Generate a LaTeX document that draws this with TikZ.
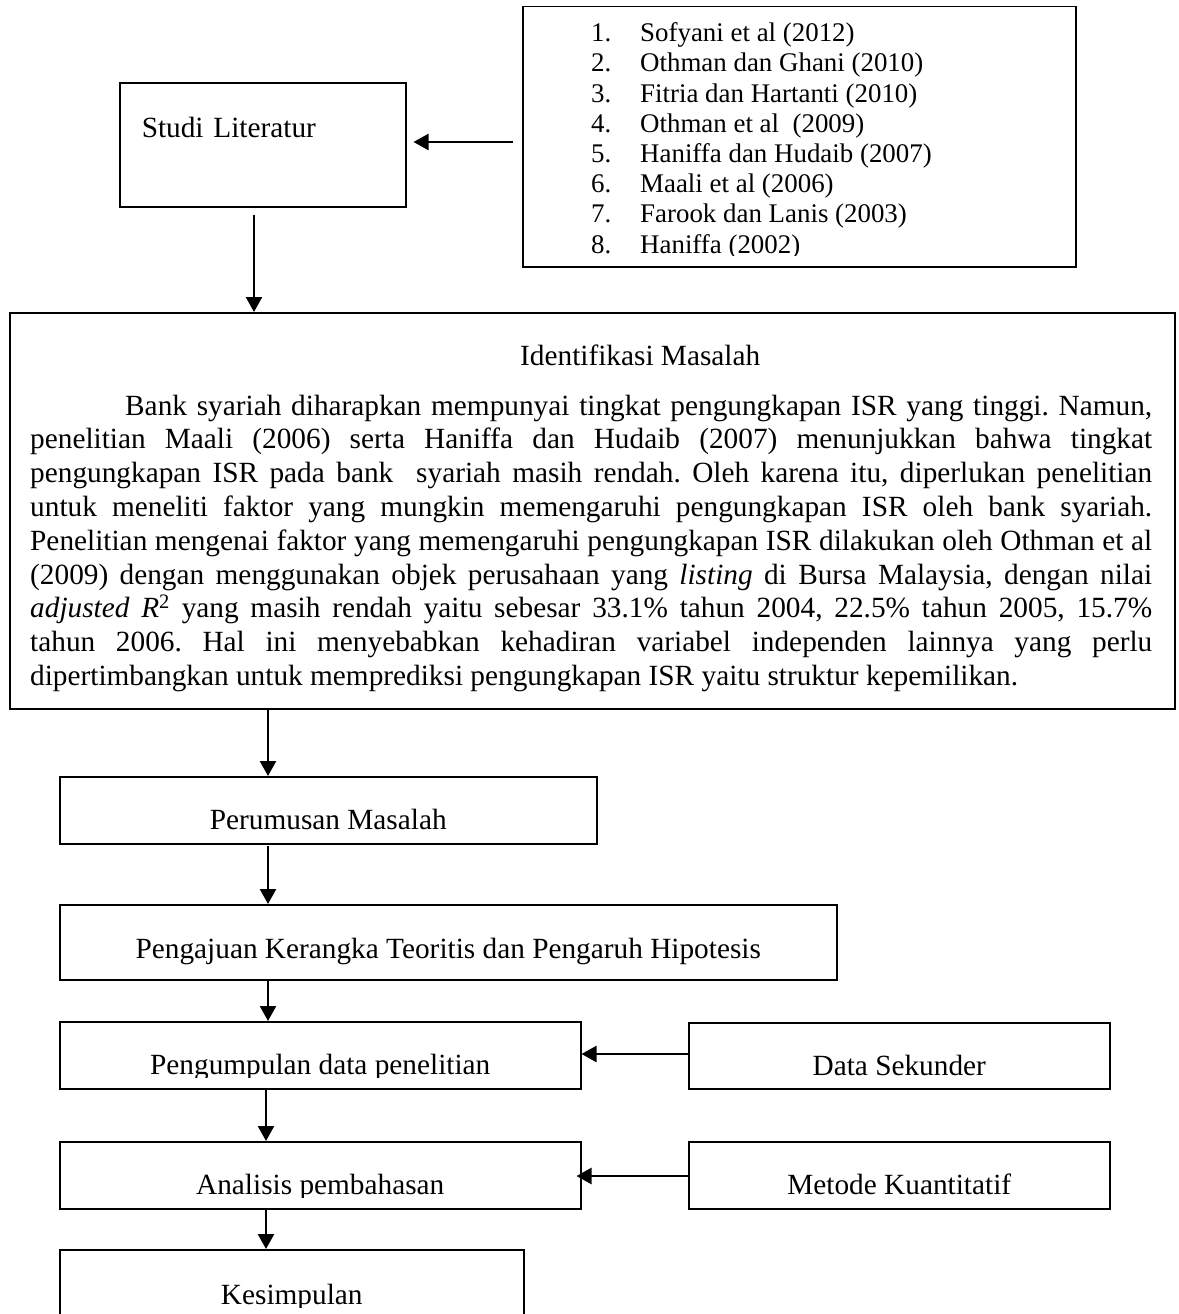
\documentclass[tikz,border=0pt]{standalone}
\usepackage{fontspec}
\setmainfont{Liberation Serif}
\usetikzlibrary{arrows.meta}
\frenchspacing
\newcommand\bodysz{\fontsize{29.3pt}{33.8pt}\selectfont}
\newcommand\listsz{\fontsize{26.9pt}{30.2pt}\selectfont}
\newcommand\litem[2]{\hbox{\makebox[49pt][l]{#1}#2}}
\tikzset{
  frame/.style={draw, line width=1.5pt, inner sep=0pt, anchor=north west, font=\bodysz},
  arr/.style={line width=2.3pt, -{Triangle[length=15pt,width=16pt]}},
  txt/.style={inner sep=0pt, font=\bodysz}
}
\begin{document}
\begin{tikzpicture}[x=1pt, y=1pt]
\useasboundingbox (0,0) rectangle (1178,-1314);
\fill[white] (0,0) rectangle (1178,-1314);

% reference list
\node[frame, minimum width=553pt, minimum height=260pt] (lit) at (522,-6) {};
\begin{scope}
  \clip (522,-6) rectangle (1075,-255.5);
  \node[anchor=base west, inner sep=0pt] (littext) at (591,-41.7) {\parbox[t]{470pt}{\listsz\frenchspacing
    \litem{1.}{Sofyani et al (2012)}
    \litem{2.}{Othman dan Ghani (2010)}
    \litem{3.}{Fitria dan Hartanti (2010)}
    \litem{4.}{Othman et al\ \ (2009)}
    \litem{5.}{Haniffa dan Hudaib (2007)}
    \litem{6.}{Maali et al (2006)}
    \litem{7.}{Farook dan Lanis (2003)}
    \litem{8.}{Haniffa (2002)}}};
\end{scope}

% Studi Literatur
\node[frame, text width=242pt, inner xsep=22pt, text height=55pt, text depth=69pt, align=left] (studi) at (119,-82) {Studi Literatur};

% Identifikasi Masalah
\node[frame, minimum width=1165pt, minimum height=396pt] (ident) at (9,-312) {};
\node[txt, anchor=base west] (identtitle) at (520,-365) {Identifikasi Masalah};
\node[txt, anchor=base west] (identtext) at (30,-415) {\parbox[t]{1122pt}{\bodysz\frenchspacing
\hbox to \hsize{\hspace*{95pt}Bank syariah diharapkan mempunyai tingkat pengungkapan ISR yang tinggi. Namun,}
\hbox to \hsize{penelitian Maali (2006) serta Haniffa dan Hudaib (2007) menunjukkan bahwa tingkat}
\hbox to \hsize{pengungkapan ISR pada bank\ \ syariah masih rendah. Oleh karena itu, diperlukan penelitian}
\hbox to \hsize{untuk meneliti faktor yang mungkin memengaruhi pengungkapan ISR oleh bank syariah.}
\hbox to \hsize{Penelitian mengenai faktor yang memengaruhi pengungkapan ISR dilakukan oleh Othman et al}
\hbox to \hsize{(2009) dengan menggunakan objek perusahaan yang \textit{listing} di Bursa Malaysia, dengan nilai}
\hbox to \hsize{\textit{adjusted R}\textsuperscript{2} yang masih rendah yaitu sebesar 33.1\% tahun 2004, 22.5\% tahun 2005, 15.7\%}
\hbox to \hsize{tahun 2006. Hal ini menyebabkan kehadiran variabel independen lainnya yang perlu}
\hbox to \hsize{dipertimbangkan untuk memprediksi pengungkapan ISR yaitu struktur kepemilikan.\hfil}}};

% flow boxes
\node[frame, minimum width=537pt, text height=53pt, text depth=14pt] (rumus) at (59,-776) {Perumusan Masalah};
\node[frame, minimum width=777pt, text height=54pt, text depth=21pt] (aju) at (59,-904) {Pengajuan Kerangka Teoritis dan Pengaruh Hipotesis};
\node[frame, minimum width=521pt, minimum height=67pt] (kumpul) at (59,-1021) {};
\node[frame, minimum width=521pt, minimum height=67pt] (analisis) at (59,-1141) {};
\node[frame, minimum width=464pt, minimum height=100pt] (simpul) at (59,-1249) {};
\node[frame, minimum width=421pt, text height=53pt, text depth=13pt] (sekunder) at (688,-1022) {Data Sekunder};
\node[frame, minimum width=421pt, text height=53pt, text depth=14pt] (metode) at (688,-1141) {Metode Kuantitatif};

\begin{scope}
  \clip (kumpul.north west) rectangle (kumpul.east |- 0,-1077.5);
  \node[txt, anchor=base] (kumpultext) at (kumpul.center |- 0,-1074) {Pengumpulan data penelitian};
\end{scope}
\begin{scope}
  \clip (analisis.north west) rectangle (analisis.east |- 0,-1197.5);
  \node[txt, anchor=base] (analisistext) at (analisis.center |- 0,-1194) {Analisis pembahasan};
\end{scope}
\begin{scope}
  \clip (simpul.north west) rectangle (simpul.east |- 0,-1307.5);
  \node[txt, anchor=base] (simpultext) at (simpul.center |- 0,-1304) {Kesimpulan};
\end{scope}

% connectors
\draw[arr, shorten <=9pt, shorten >=7pt] (lit.west |- 0,-142) -- (studi.east |- 0,-142);
\draw[arr, shorten <=7pt] (studi.south -| 254,0) -- (ident.north -| 254,0);
\draw[arr] (ident.south -| 268,0) -- (rumus.north -| 268,0);
\draw[arr, shorten <=1pt] (rumus.south -| 268,0) -- (aju.north -| 268,0);
\draw[arr] (aju.south -| 268,0) -- (kumpul.north -| 268,0);
\draw[arr] (kumpul.south -| 266,0) -- (analisis.north -| 266,0);
\draw[arr] (analisis.south -| 266,0) -- (simpul.north -| 266,0);
\draw[arr] (sekunder.west |- 0,-1054) -- (kumpul.east |- 0,-1054);
\draw[arr, shorten >=-5pt] (metode.west |- 0,-1176) -- (analisis.east |- 0,-1176);
\end{tikzpicture}
\end{document}
